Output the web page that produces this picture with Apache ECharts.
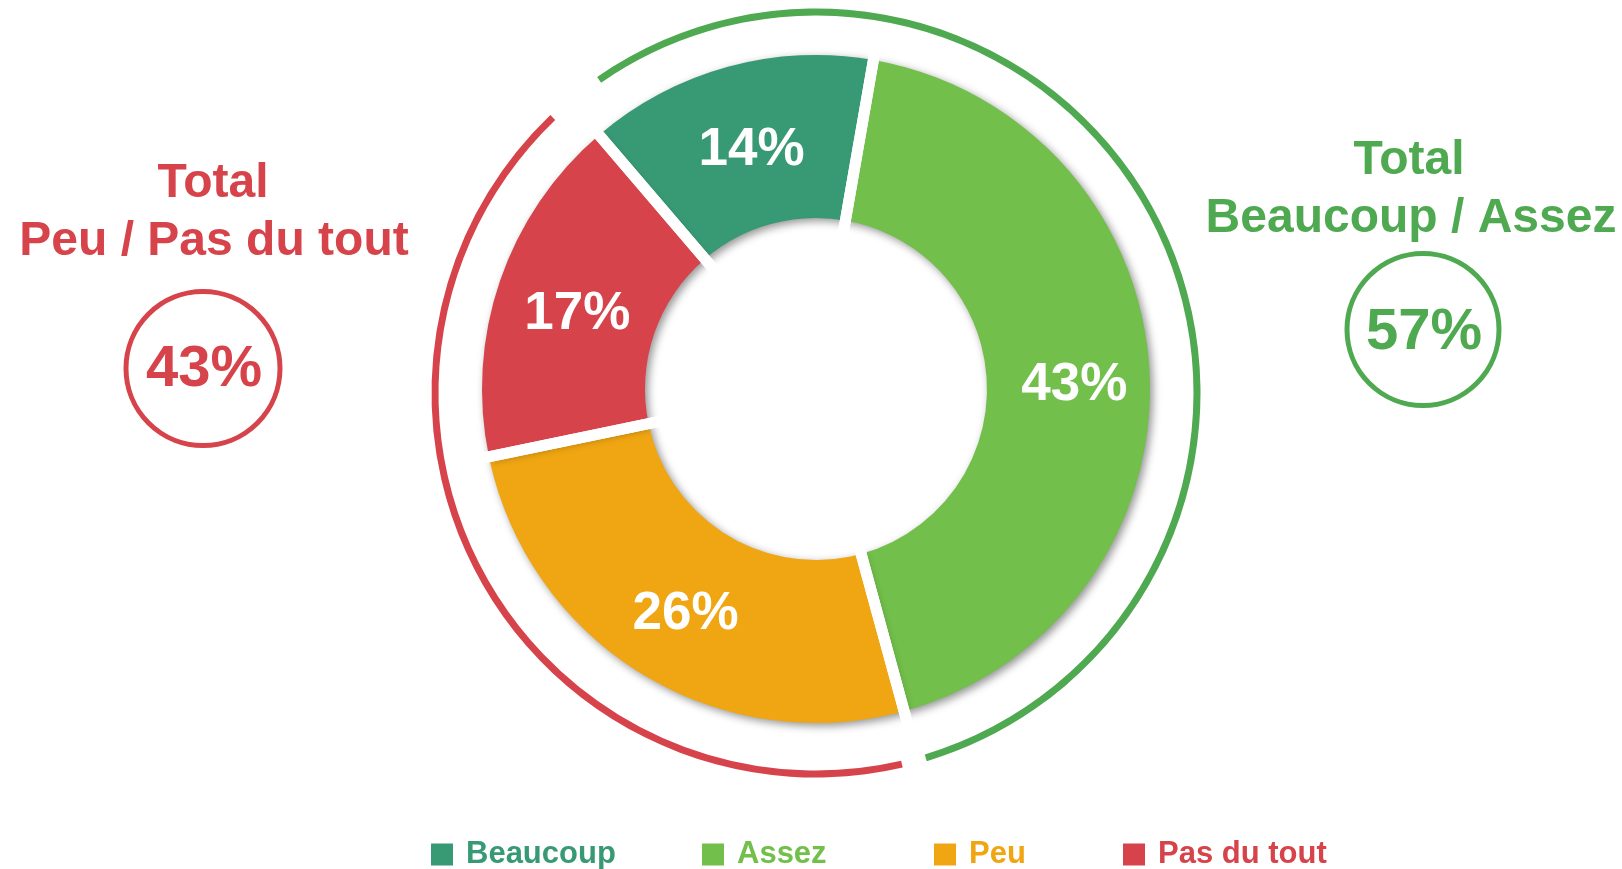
<!DOCTYPE html>
<html>
<head>
<meta charset="utf-8">
<script src="https://cdn.jsdelivr.net/npm/echarts@6/dist/echarts.min.js"></script>
<style>
  html, body { margin: 0; padding: 0; background: #fff; }
  #chart { width: 1622px; height: 869px; }
</style>
</head>
<body>
<div id="chart"></div>
<script>
// données
var categories = ["Beaucoup", "Assez", "Peu", "Pas du tout"];
var values = [14, 43, 26, 17];
var totalLabels = ["Total", "Beaucoup / Assez", "Peu / Pas du tout"];

// couleurs
var palette = ["#389a74", "#72bf4b", "#f0a612", "#d6434a"];
var ringGreen = "#4ea951";
var ringRed = "#d6434a";

var totalPositive = values[0] + values[1]; // 57
var totalNegative = values[2] + values[3]; // 43

// espaces entre les deux arcs extérieurs (en unités de la série)
var ringGapBottom = 1.07;
var ringGapTop = 2.59;

var font = '"Liberation Sans", Arial, sans-serif';
var chart = echarts.init(document.getElementById("chart"));

function txt(x, y, text, size, color) {
  return {
    type: "text",
    x: x,
    y: y,
    silent: true,
    style: {
      text: text,
      fill: color,
      font: "bold " + size + "px " + font,
      align: "center",
      verticalAlign: "middle",
      textAlign: "center",
      textVerticalAlign: "middle"
    }
  };
}

var legendLefts = [431, 702, 934, 1123];

var option = {
  animation: false,
  backgroundColor: "#fff",
  textStyle: { fontFamily: font },
  legend: categories.map(function (name, i) {
    return {
      data: [{ name: name, textStyle: { color: palette[i] } }],
      left: legendLefts[i],
      top: 839,
      padding: 0,
      icon: "rect",
      itemWidth: 22,
      itemHeight: 22,
      selectedMode: false,
      textStyle: {
        fontSize: 31,
        fontWeight: "bold",
        fontFamily: font,
        padding: [0, 0, 0, 8]
      }
    };
  }),
  graphic: [
    // gauche
    txt(213, 184, totalLabels[0], 48, ringRed),
    txt(214, 242, totalLabels[2], 48, ringRed),
    {
      type: "circle",
      silent: true,
      shape: { cx: 203, cy: 368.5, r: 77 },
      style: { fill: "none", stroke: ringRed, lineWidth: 5 }
    },
    txt(204, 370, totalNegative + "%", 58, ringRed),
    // droite
    txt(1409, 161, totalLabels[0], 48, ringGreen),
    txt(1411, 219, totalLabels[1], 48, ringGreen),
    {
      type: "circle",
      silent: true,
      shape: { cx: 1423, cy: 329.5, r: 76 },
      style: { fill: "none", stroke: ringGreen, lineWidth: 5 }
    },
    txt(1424, 333, totalPositive + "%", 58, ringGreen)
  ],
  series: [
    {
      type: "pie",
      center: [816, 389],
      radius: [171, 334],
      startAngle: 130.5,
      clockwise: true,
      silent: true,
      itemStyle: {
        borderWidth: 0,
        shadowColor: "rgba(0,0,0,0.42)",
        shadowBlur: 9,
        shadowOffsetX: 3,
        shadowOffsetY: 3
      },
      label: {
        show: true,
        position: "inside",
        formatter: "{c}%",
        color: "#fff",
        fontSize: 53,
        fontWeight: "bold",
        fontFamily: font,
        textBorderWidth: 0
      },
      labelLayout: { dx: 3, dy: 8 },
      labelLine: { show: false },
      emphasis: { disabled: true },
      data: categories.map(function (name, i) {
        return { name: name, value: values[i], itemStyle: { color: palette[i] } };
      })
    },
    {
      // séparations blanches entre les parts (même découpage, sans ombre)
      type: "pie",
      center: [816, 389],
      radius: [140, 364],
      startAngle: 130.5,
      clockwise: true,
      silent: true,
      z: 3,
      itemStyle: {
        color: "rgba(0,0,0,0)",
        borderColor: "#fff",
        borderWidth: 11
      },
      label: { show: false },
      labelLine: { show: false },
      emphasis: { disabled: true },
      data: categories.map(function (name, i) {
        return { name: name + " ", value: values[i] };
      })
    },
    {
      // anneau extérieur : totaux
      type: "pie",
      center: [816, 393],
      radius: [377.5, 384.5],
      startAngle: 124.7,
      clockwise: true,
      silent: true,
      z: 4,
      label: { show: false },
      labelLine: { show: false },
      emphasis: { disabled: true },
      data: [
        { name: "Total Beaucoup / Assez", value: totalPositive, itemStyle: { color: ringGreen } },
        { name: "gap1", value: ringGapBottom, itemStyle: { color: "rgba(0,0,0,0)" } },
        { name: "Total Peu / Pas du tout", value: totalNegative, itemStyle: { color: ringRed } },
        { name: "gap2", value: ringGapTop, itemStyle: { color: "rgba(0,0,0,0)" } }
      ]
    }
  ]
};

chart.setOption(option);
</script>
</body>
</html>
